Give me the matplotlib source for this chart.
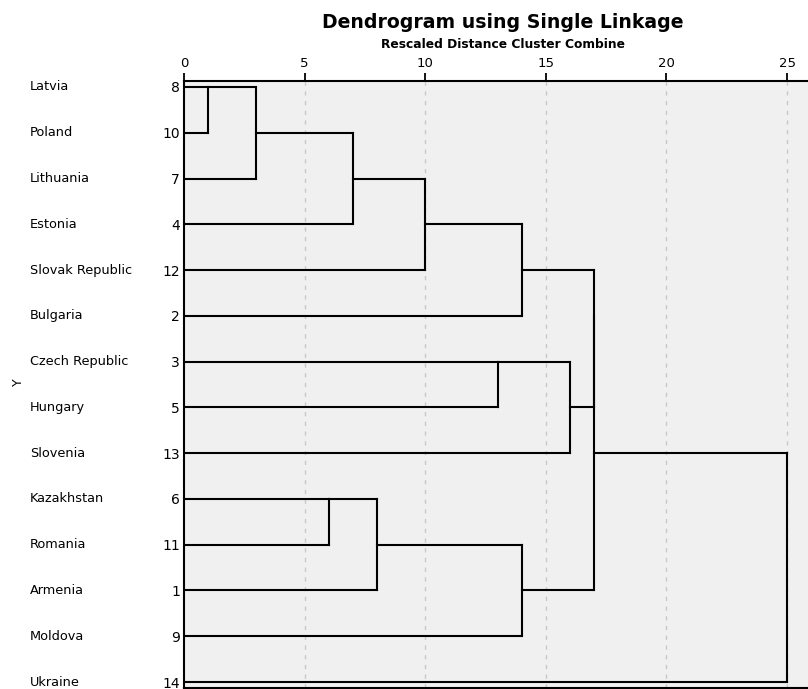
import numpy as np
import matplotlib
matplotlib.use("Agg")
import matplotlib.pyplot as plt
from matplotlib.transforms import blended_transform_factory


# ==================================
# DATA
# ==================================

countries = ["Latvia", "Poland", "Lithuania", "Estonia", "Slovak Republic",
             "Bulgaria", "Czech Republic", "Hungary", "Slovenia",
             "Kazakhstan", "Romania", "Armenia", "Moldova", "Ukraine"]

case_numbers = [8, 10, 7, 4, 12, 2, 3, 5, 13, 6, 11, 1, 9, 14]

# merges: (child a, child b, rescaled distance)
# leaves are 0..13 in display order, new clusters get 14, 15, ...
merge_a = [0, 14, 15, 16, 17, 6, 19, 9, 21, 22, 18, 24, 25]
merge_b = [1, 2, 3, 4, 5, 7, 8, 10, 11, 12, 20, 23, 13]
merge_dist = [1, 3, 7, 10, 14, 13, 16, 6, 8, 14, 17, 17, 25]

x_ticks = [0, 5, 10, 15, 20, 25]


# ==================================
# FIGURE
# ==================================

plt.rcParams['font.family'] = ['DejaVu Sans']

fig = plt.figure(figsize=(8.08, 6.89), dpi=100)
ax = fig.add_axes([0.2277, 0.0015, 0.7723, 0.8809])
ax.set_facecolor("#f0f0f0")

n = len(countries)
node_y = {i: i for i in range(n)}
node_x = {i: 0 for i in range(n)}

line_kw = dict(color="black", lw=1.5, solid_capstyle="projecting")

for k in range(len(merge_a)):
    a = merge_a[k]
    b = merge_b[k]
    d = merge_dist[k]
    ya, yb = node_y[a], node_y[b]
    ax.plot([node_x[a], d], [ya, ya], **line_kw)
    ax.plot([node_x[b], d], [yb, yb], **line_kw)
    ax.plot([d, d], [ya, yb], **line_kw)
    new_id = n + k
    node_y[new_id] = int(np.floor((ya + yb) / 2))
    node_x[new_id] = d

# grid lines
for t in x_ticks[1:]:
    ax.axvline(t, color="#c8c8c8", lw=1.0, ls=(0, (3, 4)), zorder=0)

ax.set_xlim(0, 25.87)
ax.set_ylim(13.13, -0.13)

ax.xaxis.tick_top()
ax.set_xticks(x_ticks)
ax.set_xticklabels([str(t) for t in x_ticks], fontsize=9.5)
ax.tick_params(axis="x", direction="out", length=6, width=1.3, pad=2)

ax.set_yticks(range(n))
ax.set_yticklabels([str(c) for c in case_numbers], fontsize=10)
ax.tick_params(axis="y", length=0, pad=3)

for side in ["top", "left", "bottom"]:
    ax.spines[side].set_linewidth(1.5)
ax.spines["right"].set_visible(False)

# country names on the left
trans = blended_transform_factory(fig.transFigure, ax.transData)
for i, name in enumerate(countries):
    ax.text(0.037, i, name, transform=trans, fontsize=9.3,
            ha="left", va="center", clip_on=False)

fig.text(0.023, 0.4456, "Y", rotation=90, fontsize=9,
         ha="center", va="center")

# titles
fig.text(0.6225, 0.967, "Dendrogram using Single Linkage",
         fontsize=13.6, fontweight="bold", ha="center", va="center")
fig.text(0.6225, 0.935, "Rescaled Distance Cluster Combine",
         fontsize=8.8, fontweight="bold", ha="center", va="center")

fig.savefig("out.png", dpi=100)
